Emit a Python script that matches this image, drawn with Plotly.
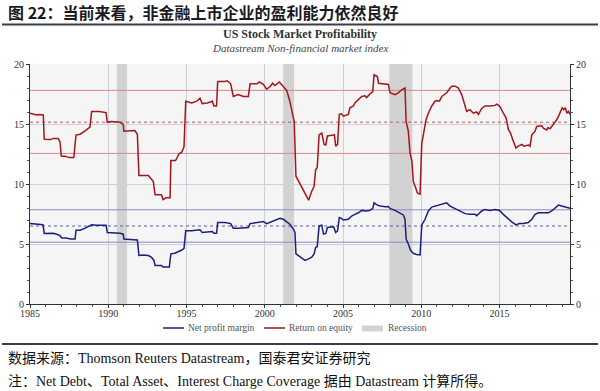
import plotly.graph_objects as go

# ---------------- data ----------------
roe_x = [1985.0, 1985.43, 1985.6, 1985.85, 1985.91, 1986.3, 1986.5, 1986.8, 1986.92, 1987.0, 1987.3, 1987.5,
         1987.8, 1987.94, 1988.2, 1988.5, 1988.83, 1988.94, 1989.4, 1989.86, 1989.94, 1990.2, 1990.75, 1990.96,
         1991.0, 1991.6, 1991.7, 1991.86, 1991.96, 1992.56, 1992.68, 1992.88, 1992.99, 1993.4, 1993.5, 1993.7,
         1993.95, 1994.0, 1994.3, 1994.52, 1994.7, 1994.84, 1994.95, 1995.33, 1995.65, 1995.86, 1996.0, 1996.33,
         1996.65, 1996.75, 1996.92, 1996.99, 1997.46, 1997.6, 1997.82, 1997.99, 1998.3, 1998.63, 1998.95, 1999.06,
         1999.5, 1999.65, 1999.91, 2000.12, 2000.33, 2000.5, 2000.65, 2000.93, 2001.19, 2001.4, 2001.6, 2001.78,
         2001.88, 2001.99, 2002.25, 2002.47, 2002.68, 2002.8, 2003.0, 2003.15, 2003.25, 2003.35, 2003.47, 2003.64,
         2003.79, 2003.9, 2004.0, 2004.25, 2004.45, 2004.53, 2004.65, 2004.76, 2004.9, 2005.02, 2005.34, 2005.44,
         2005.66, 2005.76, 2005.98, 2006.19, 2006.4, 2006.5, 2006.72, 2006.9, 2006.98, 2007.19, 2007.27, 2007.5,
         2007.79, 2007.9, 2008.0, 2008.32, 2008.53, 2008.74, 2008.96, 2009.03, 2009.17, 2009.28, 2009.4, 2009.49,
         2009.65, 2009.75, 2009.92, 2010.03, 2010.13, 2010.3, 2010.45, 2010.67, 2010.88, 2011.0, 2011.16, 2011.31,
         2011.52, 2011.65, 2011.84, 2011.95, 2012.16, 2012.37, 2012.58, 2012.8, 2012.9, 2013.1, 2013.33, 2013.54,
         2013.65, 2013.86, 2014.07, 2014.39, 2014.71, 2014.82, 2015.0, 2015.24, 2015.42, 2015.56, 2015.7, 2015.84,
         2015.93, 2016.05, 2016.2, 2016.42, 2016.56, 2016.84, 2016.95, 2017.06, 2017.27, 2017.37, 2017.69, 2017.8,
         2018.01, 2018.1, 2018.22, 2018.44, 2018.65, 2018.82, 2019.0, 2019.1, 2019.2, 2019.3, 2019.4, 2019.5]
roe_y = [15.9, 15.75, 15.8, 15.75, 13.72, 13.7, 13.8, 13.8, 13.5, 12.33, 12.3, 12.2,
         12.2, 14.08, 14.15, 14.4, 14.75, 16.05, 16.05, 15.95, 15.14, 15.2, 15.15, 14.95,
         14.4, 14.4, 14.45, 14.15, 10.7, 10.7, 10.5, 10.2, 9.1, 9.1, 8.7, 8.85,
         8.85, 11.95, 11.95, 12.5, 12.67, 13.1, 16.9, 16.75, 16.9, 17.15, 16.7, 16.75,
         16.9, 16.5, 16.5, 18.55, 18.55, 18.6, 18.35, 17.3, 17.45, 17.3, 17.3, 18.35,
         18.35, 18.5, 18.3, 17.9, 18.1, 18.4, 18.2, 18.5, 18.1, 17.8, 16.9, 15.65,
         15.2, 10.65, 10.0, 9.4, 9.0, 8.65, 9.4, 9.8, 11.2, 11.35, 14.1, 14.25,
         13.3, 13.25, 14.0, 14.05, 14.1, 13.15, 13.3, 15.8, 15.85, 15.65, 15.8, 16.35,
         16.5, 16.75, 17.0, 17.3, 17.35, 17.2, 17.5, 17.7, 19.1, 18.95, 18.4, 18.35,
         18.35, 18.3, 17.6, 17.45, 17.6, 17.85, 18.0, 15.2, 14.4, 12.6, 11.9, 10.2,
         9.65, 9.25, 9.15, 13.4, 14.1, 15.35, 15.9, 16.5, 16.9, 16.95, 16.9, 17.3,
         17.5, 17.65, 18.0, 18.15, 18.15, 18.0, 17.45, 16.6, 16.05, 16.2, 15.9, 16.0,
         15.8, 16.3, 16.5, 16.5, 16.55, 16.65, 16.5, 15.9, 15.5, 14.55, 14.25, 13.7,
         13.4, 13.0, 13.15, 13.3, 13.15, 13.25, 13.15, 14.1, 14.4, 14.8, 14.85, 14.65,
         14.5, 14.7, 14.6, 14.95, 15.35, 15.8, 16.35, 16.2, 16.35, 15.9, 16.05, 15.8]

npm_x = [1985.0, 1985.4, 1985.75, 1985.83, 1985.91, 1986.3, 1986.5, 1986.7, 1986.92, 1987.03, 1987.3, 1987.6,
         1987.88, 1987.94, 1988.2, 1988.5, 1988.79, 1988.94, 1989.27, 1989.86, 1989.94, 1990.3, 1990.75, 1990.96,
         1991.0, 1991.6, 1991.86, 1991.96, 1992.24, 1992.56, 1992.75, 1992.92, 1992.99, 1993.4, 1993.5, 1993.9,
         1994.0, 1994.25, 1994.52, 1994.7, 1994.84, 1994.95, 1995.33, 1995.65, 1995.86, 1996.0, 1996.33, 1996.65,
         1996.75, 1996.92, 1996.99, 1997.46, 1997.82, 1997.99, 1998.3, 1998.95, 1999.06, 1999.5, 1999.91, 2000.12,
         2000.45, 2000.75, 2000.97, 2001.19, 2001.4, 2001.6, 2001.83, 2001.93, 2001.99, 2002.25, 2002.57, 2002.8,
         2003.0, 2003.15, 2003.25, 2003.35, 2003.47, 2003.64, 2003.75, 2003.9, 2004.0, 2004.4, 2004.53, 2004.65,
         2004.76, 2004.9, 2005.02, 2005.34, 2005.55, 2005.76, 2005.98, 2006.19, 2006.5, 2006.72, 2006.9, 2006.98,
         2007.19, 2007.37, 2007.69, 2007.9, 2008.0, 2008.32, 2008.64, 2008.85, 2008.96, 2009.03, 2009.17, 2009.32,
         2009.49, 2009.7, 2009.92, 2010.03, 2010.24, 2010.45, 2010.67, 2010.88, 2011.09, 2011.31, 2011.52, 2011.62,
         2011.84, 2012.16, 2012.48, 2012.8, 2013.1, 2013.44, 2013.54, 2013.86, 2014.07, 2014.39, 2014.71, 2015.0,
         2015.24, 2015.56, 2015.78, 2016.05, 2016.26, 2016.52, 2016.84, 2017.06, 2017.27, 2017.48, 2017.8, 2018.12,
         2018.33, 2018.54, 2018.76, 2018.97, 2019.18, 2019.39, 2019.5]
npm_y = [6.7, 6.65, 6.65, 6.6, 5.88, 5.88, 5.9, 5.82, 5.69, 5.5, 5.5, 5.41,
         5.41, 6.15, 6.15, 6.3, 6.5, 6.6, 6.57, 6.57, 5.96, 5.96, 5.9, 5.82,
         5.41, 5.36, 5.33, 4.04, 4.09, 4.04, 3.9, 3.63, 3.21, 3.21, 3.08, 3.08,
         4.18, 4.23, 4.37, 4.5, 4.64, 6.1, 6.1, 6.15, 6.18, 5.96, 6.02, 6.04,
         5.9, 5.9, 6.79, 6.79, 6.7, 6.32, 6.32, 6.37, 6.7, 6.79, 6.87, 6.7,
         6.87, 7.06, 7.14, 7.06, 6.87, 6.65, 6.24, 5.96, 4.18, 3.96, 3.63, 3.76,
         3.9, 4.18, 4.73, 4.78, 6.51, 6.57, 5.82, 5.88, 6.37, 6.43, 5.96, 6.1,
         7.2, 7.14, 7.0, 7.06, 7.33, 7.47, 7.6, 7.8, 7.75, 7.8, 7.97, 8.43,
         8.24, 8.16, 8.1, 8.13, 7.97, 7.8, 7.53, 7.42, 7.06, 5.41, 5.0, 4.45,
         4.23, 4.12, 4.09, 6.59, 7.06, 7.75, 8.08, 8.16, 8.24, 8.3, 8.35, 8.43,
         8.16, 7.97, 7.75, 7.53, 7.47, 7.47, 7.36, 7.75, 7.88, 7.8, 7.88, 7.8,
         7.47, 7.06, 6.84, 6.59, 6.7, 6.7, 6.79, 7.06, 7.47, 7.6, 7.6, 7.6,
         7.75, 7.97, 8.24, 8.16, 8.08, 8.02, 7.97]

recession_start = [1990.55, 2001.17, 2007.96]
recession_end = [1991.2, 2001.87, 2009.43]

roe_levels = [12.55, 15.15, 17.8]      # mean - sd, mean, mean + sd
npm_levels = [5.15, 6.5, 7.85]

x_ticks = [1985, 1990, 1995, 2000, 2005, 2010, 2015]
y_ticks = [0, 5, 10, 15, 20]

series_names = ["Net profit margin", "Return on equity", "Recession"]

heading = "图 22：当前来看，非金融上市企业的盈利能力依然良好"
chart_title = "US Stock Market Profitability"
chart_subtitle = "Datastream Non-financial market index"
source_line = "数据来源：Thomson Reuters Datastream，国泰君安证券研究"
note_line = "注：Net Debt、Total Asset、Interest Charge Coverage 据由 Datastream 计算所得。"

# ---------------- figure ----------------
W, H = 600, 391
PL, PR, PT, PB = 30, 570, 64, 304          # plot box in window pixels
L, T, R, B = PL, PT, W - PR, H - PB
PW, PH = PR - PL, PB - PT
X_MIN, X_MAX = 1985.0, 2019.5

def px(x):
    return (x - PL) / PW

def py(y):
    return (PB - y) / PH

SERIF = "Liberation Serif, Noto Sans CJK SC, serif"
CJK = "Noto Sans CJK SC, Liberation Serif, sans-serif"

NAVY = "#1c1f7c"
RED = "#a4161b"
GREY_BAND = "#d2d2d2"

fig = go.Figure()

# recession bands
rx, ry = [], []
for s, e in zip(recession_start, recession_end):
    rx += [s, e, e, s, s, None]
    ry += [0, 0, 20, 20, 0, None]
fig.add_trace(go.Scatter(x=rx, y=ry, mode="lines", fill="toself", fillcolor=GREY_BAND,
                         line=dict(width=0, color=GREY_BAND), name=series_names[2],
                         showlegend=False, hoverinfo="skip"))

# reference levels
for i, lv in enumerate(roe_levels):
    fig.add_trace(go.Scatter(x=[X_MIN, X_MAX], y=[lv, lv], mode="lines", showlegend=False,
                             line=dict(color="#b85a5a" if i == 1 else "#d98a8a", width=1,
                                       dash="dot" if i == 1 else "solid"),
                             hoverinfo="skip"))
for i, lv in enumerate(npm_levels):
    fig.add_trace(go.Scatter(x=[X_MIN, X_MAX], y=[lv, lv], mode="lines", showlegend=False,
                             line=dict(color="#5a5aa8" if i == 1 else "#8a8ac8", width=1,
                                       dash="dot" if i == 1 else "solid"),
                             hoverinfo="skip"))

fig.add_trace(go.Scatter(x=npm_x, y=npm_y, mode="lines", name=series_names[0],
                         line=dict(color=NAVY, width=1.5), showlegend=False, yaxis="y2"))
fig.add_trace(go.Scatter(x=roe_x, y=roe_y, mode="lines", name=series_names[1],
                         line=dict(color=RED, width=1.5), showlegend=False))

axis_font = dict(family=SERIF, size=10, color="#333333")

fig.update_layout(
    width=W, height=H,
    margin=dict(l=L, r=R, t=T, b=B),
    paper_bgcolor="white",
    plot_bgcolor="#f5f5f5",
    showlegend=False,
    xaxis=dict(range=[X_MIN, X_MAX], tickvals=x_ticks, showgrid=True, gridcolor="#cfd0d8",
               gridwidth=1, zeroline=False, showline=True, linecolor="#333333", linewidth=1,
               ticks="outside", ticklen=3, tickcolor="#333333", tickfont=axis_font,
               ticklabelstandoff=-3,
               minor=dict(dtick=1, tick0=1985, ticks="outside", ticklen=2, tickcolor="#555555",
                          showgrid=False)),
    yaxis=dict(range=[0, 20], tickvals=y_ticks, showgrid=True, gridcolor="#cfd0d8", gridwidth=1,
               zeroline=False, showline=True, linecolor="#333333", linewidth=1,
               ticks="outside", ticklen=3, tickcolor="#333333", tickfont=axis_font,
               minor=dict(dtick=1, tick0=0, ticks="outside", ticklen=2, tickcolor="#555555",
                          showgrid=False)),
    yaxis2=dict(range=[0, 20], tickvals=y_ticks, overlaying="y", side="right", showgrid=False,
                zeroline=False, showline=True, linecolor="#333333", linewidth=1,
                ticks="outside", ticklen=3, tickcolor="#333333", tickfont=axis_font,
                minor=dict(dtick=1, tick0=0, ticks="outside", ticklen=2, tickcolor="#555555")),
)

# rules
for yy in (24.5, 344):
    fig.add_shape(type="line", xref="paper", yref="paper", x0=px(2), x1=px(598), y0=py(yy), y1=py(yy),
                  line=dict(color="#3a3d4a", width=2))

def text(s, x, y, size, family, color="#111111", xanchor="left", bold=False):
    fig.add_annotation(text=("<b>%s</b>" % s) if bold else s, xref="paper", yref="paper",
                       x=px(x), y=py(y), xanchor=xanchor, yanchor="middle", showarrow=False,
                       font=dict(family=family, size=size, color=color))

# manual legend
LEG_Y = 328
fig.add_shape(type="line", xref="paper", yref="paper", x0=px(163), x1=px(184), y0=py(LEG_Y), y1=py(LEG_Y),
              line=dict(color=NAVY, width=1.5))
text(series_names[0], 186, LEG_Y, 9.5, SERIF, "#555555")
fig.add_shape(type="line", xref="paper", yref="paper", x0=px(264), x1=px(285), y0=py(LEG_Y), y1=py(LEG_Y),
              line=dict(color=RED, width=1.5))
text(series_names[1], 287, LEG_Y, 9.5, SERIF, "#555555")
fig.add_shape(type="rect", xref="paper", yref="paper", x0=px(362), x1=px(383), y0=py(331.5), y1=py(325.5),
              line=dict(width=0), fillcolor=GREY_BAND)
text(series_names[2], 386, LEG_Y, 9.5, SERIF, "#555555")

text(heading, 6, 12, 16, CJK, "#1a1a24", bold=True)
text(chart_title, 300, 34, 12, SERIF, "#333333", xanchor="center", bold=True)
text("<i>%s</i>" % chart_subtitle, 300, 48, 11, SERIF, "#444444", xanchor="center")
text(source_line, 6, 358, 14, SERIF, "#111111")
text(note_line, 6, 381, 14, SERIF, "#111111")

fig.write_html("out.html", config={"displayModeBar": False},
               post_script="document.body.style.margin='0';document.body.style.overflow='hidden';")
